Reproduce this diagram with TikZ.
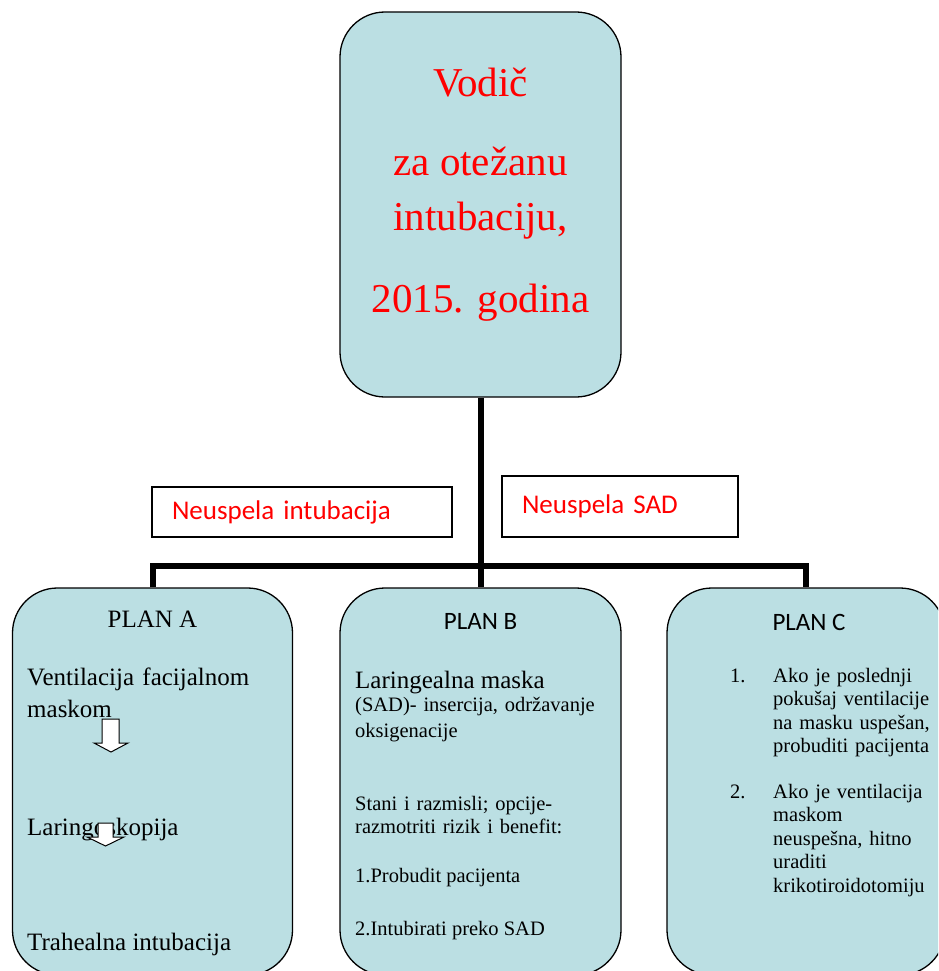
\documentclass[tikz,border=0pt]{standalone}
\usepackage{fontspec}
\setmainfont{Liberation Serif}
\newfontfamily\calibri{Carlito}
\usetikzlibrary{positioning}
\definecolor{planblue}{RGB}{187,223,227}

\begin{document}
\begin{tikzpicture}[x=1pt, y=-1pt,
		plan/.style = {draw, line width=1.3pt, fill=planblue, rounded corners=45pt, minimum height=387pt, inner sep=0pt},
		note/.style = {draw, line width=1.3pt, fill=white, inner xsep=20pt, inner ysep=0pt, align=left, text=red, font=\calibri\fontsize{27}{32}\selectfont},
		conn/.style = {line width=6pt, line join=miter},
		title/.style = {anchor=base, inner sep=0pt, text=red, font=\fontsize{41}{49}\selectfont},
		txt/.style = {anchor=base west, inner sep=0pt, align=left, font=\fontsize{25}{32}\selectfont},
		small/.style = {anchor=base west, inner sep=0pt, align=left, font=\fontsize{20.5}{23.5}\selectfont},
		downarrow/.style = {draw, line width=1pt, fill=white, line join=miter}]
	\useasboundingbox (0,0) rectangle (938,971);
	\clip (0,0) rectangle (938,971);

	\node[plan, minimum width=281pt, minimum height=385pt] (guide) at (480.5,204.5) {};
	\node[plan, minimum width=280pt] (planA) at (152.5,781.5) {};
	\node[plan, minimum width=281pt] (planB) at (480.5,781.5) {};
	\node[plan, minimum width=278pt] (planC) at (806,781.5) {};

	\coordinate (fork) at (480.5,566);
	\draw[conn] (guide.south) -- (fork) -- (planB.north);
	\draw[conn] (planA.north) |- (fork) -| (planC.north);

	\node[note, text width=260pt, minimum height=50pt] (failA) at (302,512) {Neuspela intubacija};
	\node[note, text width=196pt, minimum height=61pt] (failB) at (620,506.5) {Neuspela SAD};

	\node[title] (head1) at (480.5,97) {Vodič};
	\node[title] (head2) at (480.5,175) {za otežanu};
	\node[title] (head3) at (480.5,230) {intubaciju,};
	\node[title] (head4) at (480.5,312) {2015. godina};

	\node[anchor=base, font=\fontsize{25}{30}\selectfont] (nameA) at (152.5,627) {PLAN A};
	\node[txt, text width=260pt] (vent) at (27,685) {Ventilacija facijalnom\\maskom};
	\node[txt] (laring) at (27,835) {Laringoskopija};
	\node[txt] (trah) at (27,950) {Trahealna intubacija};
	\draw[downarrow] (102,719) -- (119,719) -- (119,743) -- (128,743) -- (111,752) -- (94,743) -- (102,743) -- cycle;
	\draw[downarrow] (98,823) -- (113,823) -- (113,837) -- (124,837) -- (105.5,846) -- (87,837) -- (98,837) -- cycle;

	\node[anchor=base, font=\calibri\fontsize{25}{30}\selectfont] (nameB) at (480.5,629) {PLAN B};
	\node[txt] (lma) at (355,688) {Laringealna maska};
	\node[small, text width=260pt, font=\fontsize{20.5}{26}\selectfont] (sad) at (355,711) {(SAD)- insercija, održavanje\\oksigenacije};
	\node[small, text width=260pt] (stani) at (355,810) {Stani i razmisli; opcije-\\razmotriti rizik i benefit:};
	\node[small] (wake) at (355,882) {1.Probudit pacijenta};
	\node[small] (intub) at (355,935) {2.Intubirati preko SAD};

	\node[anchor=base, font=\calibri\fontsize{25}{30}\selectfont] (nameC) at (809,630) {PLAN C};
	\node[small] (num1) at (730,682) {1.};
	\node[small, text width=170pt] (item1) at (773,682) {Ako je poslednji\\pokušaj ventilacije\\na masku uspešan,\\probuditi pacijenta};
	\node[small] (num2) at (730,798) {2.};
	\node[small, text width=170pt] (item2) at (773,798) {Ako je ventilacija\\maskom\\neuspešna, hitno\\uraditi\\krikotiroidotomiju};
\end{tikzpicture}
\end{document}
